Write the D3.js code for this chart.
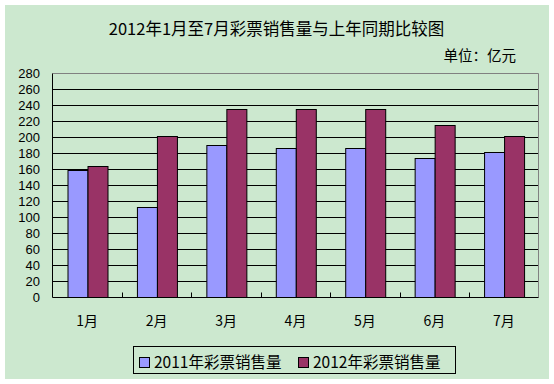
<!DOCTYPE html>
<html><head><meta charset="utf-8">
<script src="https://cdn.jsdelivr.net/npm/d3@7"></script>
<style>body{margin:0;background:#fff}svg{display:block}text{font-family:"Noto Sans CJK SC","Noto Sans",sans-serif;fill:#000}</style>
</head><body>
<script>
const months = ["1月","2月","3月","4月","5月","6月","7月"];
const seriesNames = ["2011年彩票销售量","2012年彩票销售量"];
const sales2011 = [159, 113, 190, 186, 186, 174, 181];
const sales2012 = [164, 201, 235, 235, 235, 215, 201];
const yTicks = [0,20,40,60,80,100,120,140,160,180,200,220,240,260,280];
const colors = ["#9999FF","#993366"];
const title = "2012年1月至7月彩票销售量与上年同期比较图";
const unitLabel = "单位：亿元";

const W = 554, H = 384;
const svg = d3.select("body").append("svg").attr("width", W).attr("height", H);
svg.append("rect").attr("x",5).attr("y",5).attr("width",544).attr("height",374).attr("fill","#CCE8CF");

const plot = {l:52.5, r:538.5, t:73, b:297};
const x = d3.scaleBand().domain(months).range([plot.l, plot.r]).padding(0);
const xs = d3.scaleBand().domain(seriesNames).range([0, x.bandwidth()]).paddingInner(0).paddingOuter(0.75);
const y = d3.scaleLinear().domain([0,280]).range([plot.b, plot.t]);
const py = v => Math.round(y(v)) + 0.5;

// gridlines
svg.append("g").selectAll("line").data(yTicks.filter(v => v>0 && v<280)).join("line")
  .attr("x1", plot.l).attr("x2", plot.r).attr("y1", py).attr("y2", py)
  .attr("stroke","#000").attr("stroke-width",1);
// top & right border (grey)
svg.append("path").attr("d", `M${plot.l},${py(280)}H${plot.r}V${py(0)}`)
  .attr("fill","none").attr("stroke","#808080").attr("stroke-width",1);

// bars
const data = months.map((m,i) => ({m, vals:[sales2011[i], sales2012[i]]}));
const g = svg.append("g").selectAll("g").data(data).join("g").attr("transform", d => `translate(${x(d.m)},0)`);
g.selectAll("rect").data(d => d.vals.map((v,j) => ({v, s:seriesNames[j], c:colors[j]}))).join("rect")
  .attr("x", d => Math.round(xs(d.s)) + 0.5)
  .attr("width", d => Math.round(xs.bandwidth()))
  .attr("y", d => Math.round(y(d.v)) + 0.5)
  .attr("height", d => Math.round(y(0)) - Math.round(y(d.v)))
  .attr("fill", d => d.c).attr("stroke","#000").attr("stroke-width",1);

// axes
svg.append("line").attr("x1",plot.l).attr("x2",plot.l).attr("y1",py(280)).attr("y2",py(0)).attr("stroke","#000");
svg.append("line").attr("x1",plot.l).attr("x2",plot.r).attr("y1",py(0)).attr("y2",py(0)).attr("stroke","#000");
// x ticks (inward)
svg.append("g").selectAll("line").data(months.slice(1)).join("line")
  .attr("x1", d => Math.round(x(d))+0.5).attr("x2", d => Math.round(x(d))+0.5)
  .attr("y1", py(0)).attr("y2", py(0)-5).attr("stroke","#000");

// y labels
svg.append("g").selectAll("text").data(yTicks).join("text")
  .attr("x", 40).attr("y", v => y(v) + 4.5).attr("text-anchor","end")
  .style("font-family", '"Liberation Sans", Arial, sans-serif')
  .attr("font-size","13px").text(v => v);
// x labels
svg.append("g").selectAll("text").data(months).join("text")
  .attr("x", d => x(d) + x.bandwidth()/2).attr("y", 326).attr("text-anchor","middle")
  .attr("font-size","14px").text(d => d);

// title
svg.append("text").attr("x",276.5).attr("y",35).attr("text-anchor","middle").attr("font-size","16.5px").text(title);
svg.append("text").attr("x",516).attr("y",61).attr("text-anchor","end").attr("font-size","14.5px").text(unitLabel);

// legend
const lg = svg.append("g");
lg.append("rect").attr("x",133.5).attr("y",346.5).attr("width",322).attr("height",27).attr("fill","none").attr("stroke","#000");
const lx = [139.5, 298.5], tx = [154, 313];
seriesNames.forEach((s,i) => {
  lg.append("rect").attr("x",lx[i]).attr("y",357.5).attr("width",10).attr("height",10).attr("fill",colors[i]).attr("stroke","#000");
  lg.append("text").attr("x",tx[i]).attr("y",368).attr("font-size","15.5px").text(s);
});
</script>
</body></html>
